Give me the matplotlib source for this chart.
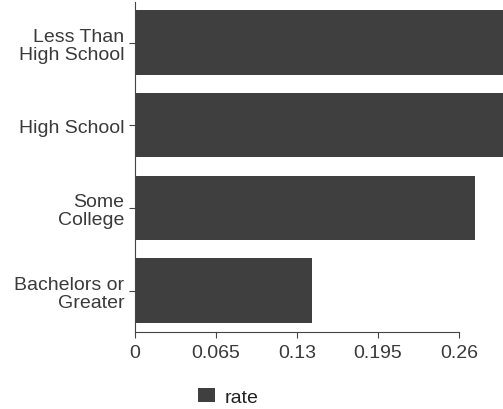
import numpy as np
import matplotlib
matplotlib.use('Agg')
from matplotlib import pyplot as plt

# education level vs rate (first two bars run past the axis domain in the original)
categories = ['Less Than\nHigh School', 'High School', 'Some\nCollege', 'Bachelors or\nGreater']
rates = [0.33, 0.31, 0.273, 0.142]
xticks = [0, 0.065, 0.13, 0.195, 0.26]
xticklabels = ['0', '0.065', '0.13', '0.195', '0.26']

barColor = '#3f3f3f'
textColor = '#3a3a3a'
W, H = 503, 410

plt.rcParams['font.family'] = ['Liberation Sans', 'DejaVu Sans']

fig = plt.figure(figsize=(W / 100, H / 100), dpi=100)
ax = fig.add_axes([135 / W, (H - 333) / H, 1 - 135 / W, 330 / H])

pos = np.arange(len(categories))
ax.barh(pos, rates, height=0.78, color=barColor, label='rate')

ax.set_xlim(0, (W - 135) / 1246)
ax.set_ylim(3.5, -0.49)

ax.spines['top'].set_visible(False)
ax.spines['right'].set_visible(False)
ax.spines['bottom'].set_bounds(0, 0.26)
for s in ['left', 'bottom']:
    ax.spines[s].set_color('#444444')
    ax.spines[s].set_linewidth(0.8)

ax.set_xticks(xticks)
ax.set_xticklabels(xticklabels)
ax.set_yticks(pos)
ax.set_yticklabels(categories, linespacing=1.12, ha='right', multialignment='right')
ax.tick_params(axis='both', colors='#444444', labelcolor=textColor, labelsize=14, length=4.5, width=0.8)
ax.tick_params(axis='y', pad=3)
ax.tick_params(axis='x', pad=4)

fig.legend(loc='center left', bbox_to_anchor=(198 / W, 1 - 398 / H), frameon=False,
           fontsize=14, handlelength=0.85, handleheight=0.75, handletextpad=0.5,
           borderpad=0, borderaxespad=0, labelcolor='#222222')

fig.savefig('out.png', dpi=100)
